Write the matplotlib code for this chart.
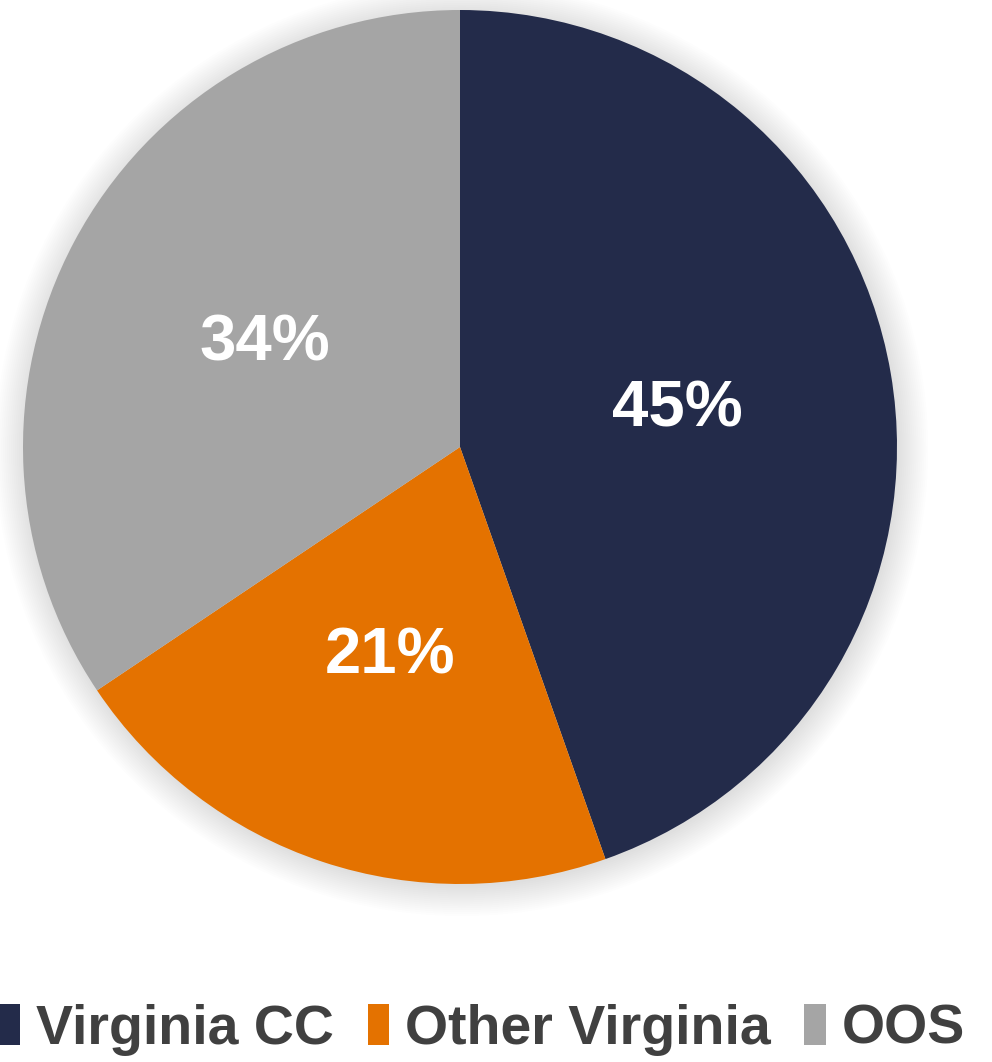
import matplotlib.pyplot as plt
from matplotlib.patches import Circle

labels = ['Virginia CC', 'Other Virginia', 'OOS']
values = [44.6, 21.0, 34.4]
colors = ['#232B4A', '#E47200', '#A5A5A5']

fam = ['Liberation Sans', 'DejaVu Sans']
plt.rcParams['font.family'] = fam

fig = plt.figure(figsize=(9.92, 10.62), dpi=100)
W, H = 992, 1062
cx, cy, r = 460, 447, 437
ax = fig.add_axes([(cx - r) / W, (H - cy - r) / H, 2 * r / W, 2 * r / H])

# soft shadow round the pie
for i in range(16):
    ax.add_patch(Circle((0.004, -0.006), 1 + 0.0045 * i, color='black',
                        alpha=0.007, lw=0, clip_on=False, zorder=0))

wedges, texts, autotexts = ax.pie(
    values, colors=colors, startangle=90, counterclock=False,
    autopct='%.0f%%', pctdistance=0.505,
    wedgeprops=dict(zorder=2),
    textprops=dict(color='white', fontsize=47, fontweight='bold'))
for t in autotexts:
    t.set_zorder(3)
ax.set_xlim(-1, 1)
ax.set_ylim(-1, 1)
ax.set_aspect('equal')

fig.legend(wedges, labels, loc='center', bbox_to_anchor=(482 / W, 1 - 1030 / H),
           ncol=3, frameon=False, handlelength=0.38, handleheight=0.75,
           handletextpad=0.3, columnspacing=0.6,
           prop=dict(family=fam, weight='bold', size=40),
           labelcolor='#404040')

fig.savefig('out.png', dpi=100, facecolor='white')
